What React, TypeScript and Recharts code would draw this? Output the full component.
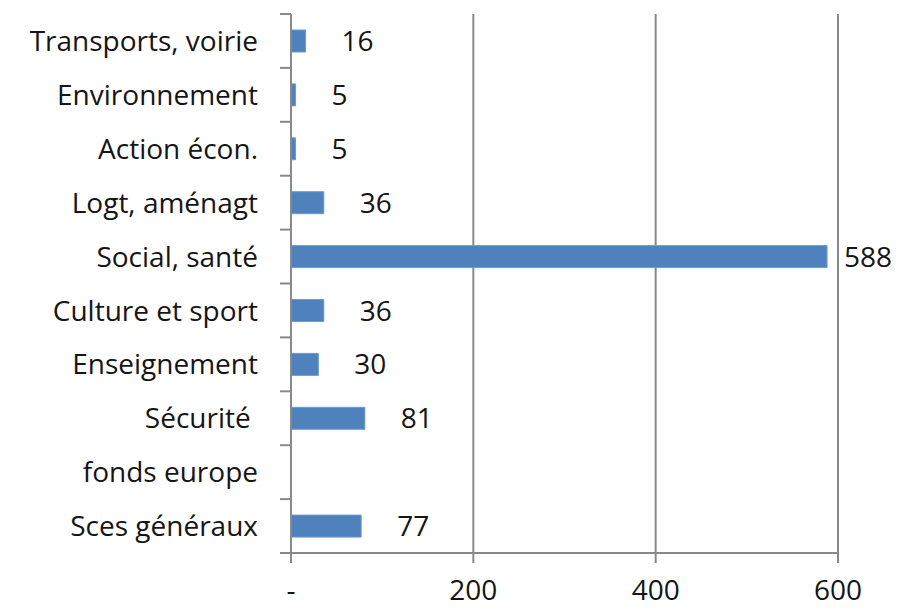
import { BarChart, Bar, XAxis, YAxis, CartesianGrid, LabelList } from "recharts";

const categories = [
  "Transports, voirie",
  "Environnement",
  "Action écon.",
  "Logt, aménagt",
  "Social, santé",
  "Culture et sport",
  "Enseignement",
  "Sécurité ",
  "fonds europe",
  "Sces généraux",
];
const values = [16, 5, 5, 36, 588, 36, 30, 81, null, 77];
const xTicks = [0, 200, 400, 600];

const data = categories.map((name, i) => ({ name, value: values[i] }));

const WIDTH = 899;
const HEIGHT = 610;
const X_AXIS_H = 57;
const MARGIN = { top: 14, right: 61, bottom: 0, left: 0 };
const BAND = (HEIGHT - MARGIN.top - X_AXIS_H) / categories.length;
const TICK_SIZE = 11;
const TICK_MARGIN = 22;
const GRAY = "#898989";
const FONT = "'Open Sans', Lato, sans-serif";
const FONT_SIZE = 28;
const TEXT = "#151515";

const CategoryTick = ({ x, y, payload, index }: any) => {
  const axisX = x + TICK_SIZE + TICK_MARGIN;
  const last = index === categories.length - 1;
  return (
    <g>
      <line x1={axisX - TICK_SIZE} x2={axisX} y1={y - BAND / 2} y2={y - BAND / 2} stroke={GRAY} strokeWidth={2} />
      {last && (
        <line x1={axisX - TICK_SIZE} x2={axisX} y1={y + BAND / 2} y2={y + BAND / 2} stroke={GRAY} strokeWidth={2} />
      )}
      <text
        x={x}
        y={y}
        dy="0.36em"
        textAnchor="end"
        fill={TEXT}
        fontSize={FONT_SIZE}
        fontFamily={FONT}
        style={{ whiteSpace: "pre" }}
      >
        {payload.value}
      </text>
    </g>
  );
};

const ValueLabel = ({ x, y, width, height, value }: any) => {
  if (value == null) return null;
  const end = x + width;
  // Excel pulls the label back inside the chart when it would overflow
  const w = String(value).length * 17;
  const tx = Math.min(end + 36, WIDTH - 4 - w);
  return (
    <text x={tx} y={y + height / 2} dy="0.36em" fill={TEXT} fontSize={FONT_SIZE} fontFamily={FONT}>
      {value}
    </text>
  );
};

export default function App() {
  return (
    <div style={{ position: "absolute", left: 0, top: 0, background: "#fff" }}>
      <BarChart width={WIDTH} height={HEIGHT} data={data} layout="vertical" margin={MARGIN} barCategoryGap={0}>
        <CartesianGrid horizontal={false} stroke={GRAY} strokeWidth={2} />
        <XAxis
          type="number"
          domain={[0, 600]}
          ticks={xTicks}
          height={X_AXIS_H}
          tickFormatter={(v) => (v === 0 ? "-" : String(v))}
          axisLine={{ stroke: GRAY, strokeWidth: 2 }}
          tickLine={{ stroke: GRAY, strokeWidth: 2 }}
          tickSize={10}
          tickMargin={17}
          tick={{ fill: TEXT, fontSize: FONT_SIZE, fontFamily: FONT }}
        />
        <YAxis
          type="category"
          dataKey="name"
          width={291}
          axisLine={{ stroke: GRAY, strokeWidth: 2 }}
          tickLine={false}
          tickSize={TICK_SIZE}
          tickMargin={TICK_MARGIN}
          tick={<CategoryTick />}
          interval={0}
        />
        <Bar dataKey="value" fill="#4F81BD" stroke="#6E9BD1" strokeWidth={1} barSize={22} isAnimationActive={false}>
          <LabelList dataKey="value" content={<ValueLabel />} />
        </Bar>
      </BarChart>
    </div>
  );
}
